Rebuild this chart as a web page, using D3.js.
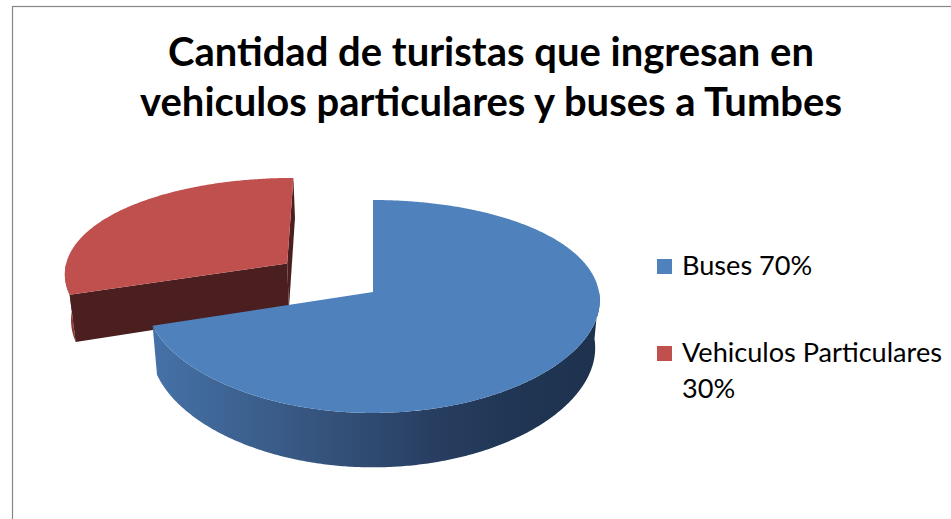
<!DOCTYPE html>
<html>
<head>
<meta charset="utf-8">
<script src="https://cdn.jsdelivr.net/npm/d3@7"></script>
<style>
  body { margin: 0; background: #fff; }
  text { font-family: Lato, 'Open Sans', sans-serif; }
</style>
</head>
<body>
<div class="chart"></div>
<script>
// Chart data
const categories = ['Buses', 'Vehiculos Particulares']
const percents = [70, 30]
const legendLines = [['Buses 70%'], ['Vehiculos Particulares', '30%']]
const titleLines = ['Cantidad de turistas que ingresan en', 'vehiculos particulares y buses a Tumbes']

const width = 951
const height = 519

const topColors = ['#4F81BD', '#C0504D']
const cutColors = ['#2C4770', '#4B1F1F']

// 3D pie geometry (pseudo perspective)
const geo = { cx: 373, cy: 292, rx: 226, ry: 104.5, k: 0.136, kx: 0.08, h: 47, sx: 0.02 }
const explode = [0, 0.48]

const svg = d3.select('.chart')
  .append('svg')
  .attr('width', width)
  .attr('height', height)

const defs = svg.append('defs')

const blueSide = defs.append('linearGradient')
  .attr('id', 'side0')
  .attr('gradientUnits', 'userSpaceOnUse')
  .attr('x1', 150).attr('x2', 600).attr('y1', 0).attr('y2', 0)
blueSide.selectAll('stop')
  .data([[0, '#4672A8'], [0.4, '#34527A'], [0.62, '#283F62'], [0.8, '#203654'], [1, '#1E324E']])
  .enter().append('stop')
  .attr('offset', d => d[0])
  .attr('stop-color', d => d[1])

const redSide = defs.append('linearGradient')
  .attr('id', 'side1')
  .attr('gradientUnits', 'userSpaceOnUse')
  .attr('x1', 60).attr('x2', 300).attr('y1', 0).attr('y2', 0)
redSide.selectAll('stop')
  .data([[0, '#8E3A38'], [1, '#4B1F1F']])
  .enter().append('stop')
  .attr('offset', d => d[0])
  .attr('stop-color', d => d[1])

// chart area border
svg.append('rect')
  .attr('x', 12.5)
  .attr('y', 6.5)
  .attr('width', 1000)
  .attr('height', 1000)
  .attr('fill', '#fff')
  .attr('stroke', '#868686')
  .attr('stroke-width', 1.2)

function project(u, v, z) {
  const s = 1 / (1 - geo.k * v)
  const sh = 1 / (1 - geo.kx * v)
  return [
    geo.cx + geo.rx * u * sh * (1 - z * geo.sx),
    geo.cy + geo.ry * v * s + z * geo.h * s
  ]
}

function rim(a0, a1, z, off) {
  const n = Math.max(2, Math.ceil((a1 - a0) / 0.01))
  return d3.range(n + 1).map(i => {
    const a = a0 + (a1 - a0) * i / n
    return project(off[0] + Math.sin(a), off[1] - Math.cos(a), z)
  })
}

function area(pts) {
  return d3.sum(pts, (p, i) => {
    const q = pts[(i + 1) % pts.length]
    return p[0] * q[1] - q[0] * p[1]
  })
}

const line = d3.line()
const pie = d3.pie().sort(null).value(d => d)
const arcs = pie(percents).map((d, i) => {
  const mid = (d.startAngle + d.endAngle) / 2
  d.off = [explode[i] * Math.sin(mid), -explode[i] * Math.cos(mid)]
  return d
})

const pieGroup = svg.append('g')

// far slices first
arcs.slice().sort((a, b) => a.off[1] - b.off[1]).forEach(d => {
  const i = d.index
  const g = pieGroup.append('g')
  const apexT = project(d.off[0], d.off[1], 0)
  const apexB = project(d.off[0], d.off[1], 1)
  const edge = (a, z) => project(d.off[0] + Math.sin(a), d.off[1] - Math.cos(a), z)

  // outer side, front half only
  const s0 = Math.max(d.startAngle, Math.PI / 2)
  const s1 = Math.min(d.endAngle, Math.PI * 1.5)
  if (s1 > s0) {
    const side = rim(s0, s1, 0, d.off).concat(rim(s0, s1, 1, d.off).reverse())
    g.append('path')
      .attr('d', line(side) + 'Z')
      .attr('fill', `url(#side${i})`)
  }

  // cut faces
  const startFace = [apexT, edge(d.startAngle, 0), edge(d.startAngle, 1), apexB]
  const endFace = [apexT, edge(d.endAngle, 0), edge(d.endAngle, 1), apexB]
  if (area(startFace) < 0) {
    g.append('path').attr('d', line(startFace) + 'Z').attr('fill', cutColors[i])
  }
  if (area(endFace) > 0) {
    g.append('path').attr('d', line(endFace) + 'Z').attr('fill', cutColors[i])
  }

  // top face
  const top = [apexT].concat(rim(d.startAngle, d.endAngle, 0, d.off))
  g.append('path')
    .attr('d', line(top) + 'Z')
    .attr('fill', topColors[i])
})

// Title
const title = svg.append('g')
  .attr('font-weight', 'bold')
  .attr('fill', '#000')
  .attr('text-anchor', 'middle')

const titleText = title.selectAll('text')
  .data(titleLines)
  .enter()
  .append('text')
  .attr('x', 491)
  .attr('y', (d, i) => 66 + i * 50)
  .attr('font-size', 36)
  .text(d => d)

const tLen = titleText.nodes()[1].getComputedTextLength()
titleText.attr('font-size', 36 * 702 / tLen)

// Legend
const legend = svg.append('g')

const items = legend.selectAll('g')
  .data(categories)
  .enter()
  .append('g')
  .attr('transform', (d, i) => `translate(657, ${259 + i * 87})`)

items.append('rect')
  .attr('width', 15)
  .attr('height', 15)
  .attr('fill', (d, i) => topColors[i])

const legendText = items.append('text')
  .attr('x', 25)
  .attr('y', 16)
  .attr('font-size', 24)
  .attr('fill', '#000')

legendText.selectAll('tspan')
  .data((d, i) => legendLines[i])
  .enter()
  .append('tspan')
  .attr('x', 25)
  .attr('dy', (d, j) => j === 0 ? 0 : 36)
  .text(d => d)

const lLen = legendText.nodes()[1].querySelector('tspan').getComputedTextLength()
legendText.attr('font-size', 24 * 260 / lLen)
</script>
</body>
</html>
